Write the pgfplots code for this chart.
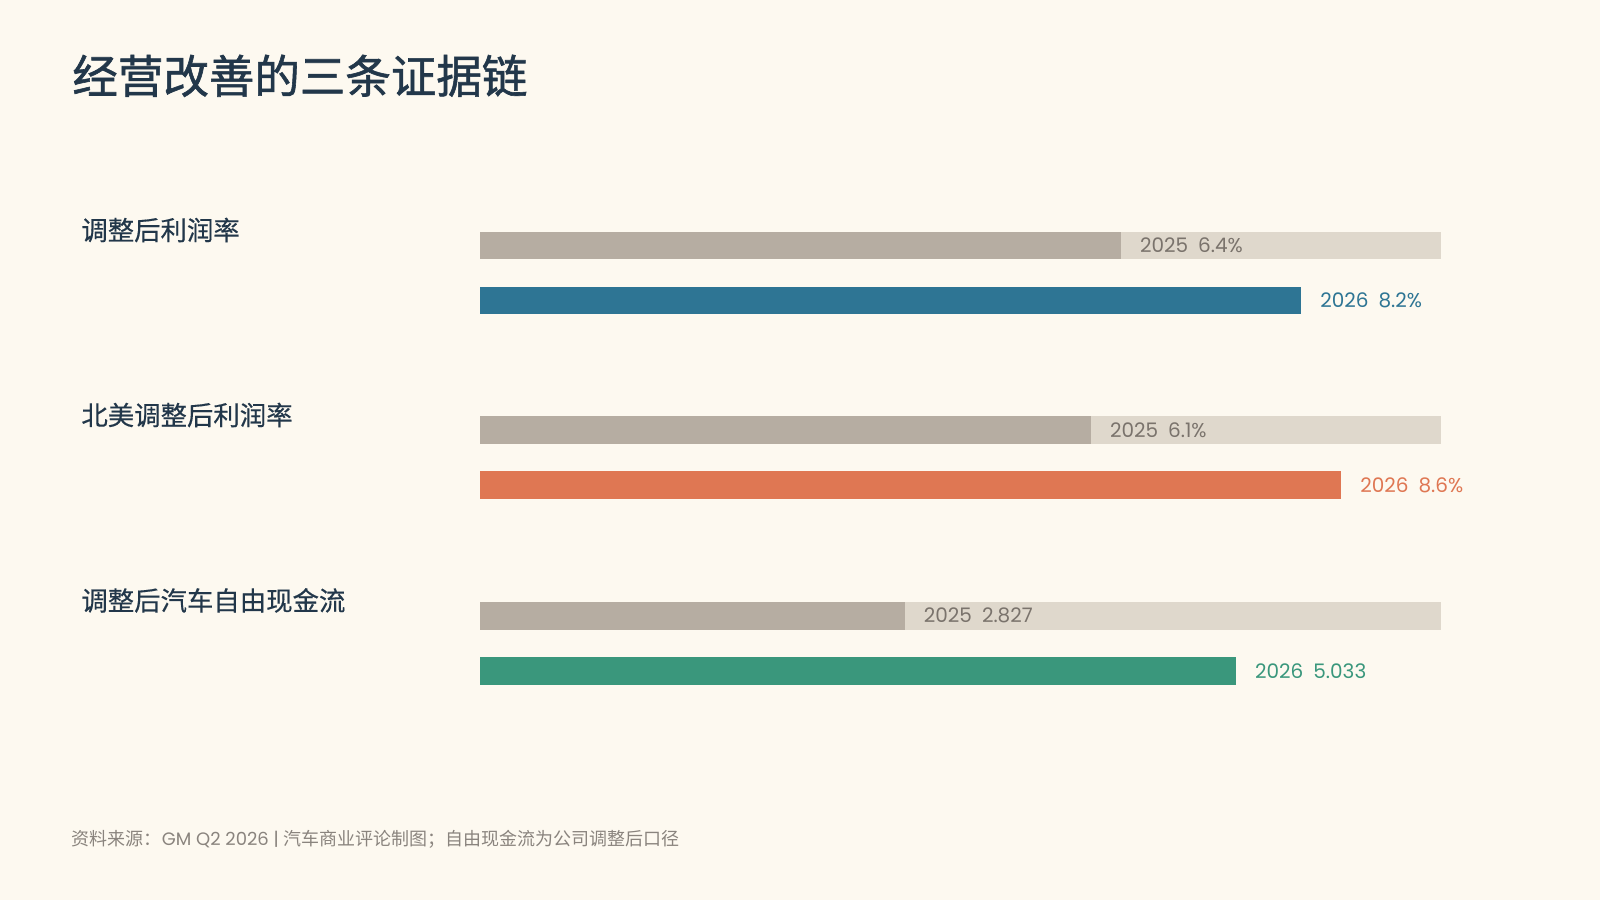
\documentclass[border=0pt]{standalone}
\usepackage{pgfplots}
\pgfplotsset{compat=1.18}
\usepackage{fontspec}
\setmainfont{Poppins}
\newfontfamily\cjk{Noto Sans CJK SC}
\newfontfamily\cjkmed[FakeBold=0.4]{Noto Sans CJK SC}
\newfontfamily\cjktitle[FakeBold=1.3]{Noto Sans CJK SC}

\definecolor{bg}{HTML}{FDF9F0}
\definecolor{track}{HTML}{DFD8CC}
\definecolor{old}{HTML}{B6ADA2}
\definecolor{oldtext}{HTML}{7A736C}
\definecolor{blue}{HTML}{2E7594}
\definecolor{orange}{HTML}{DF7753}
\definecolor{green}{HTML}{3A977C}
\definecolor{titlec}{HTML}{22374A}
\definecolor{footc}{HTML}{8A847E}

\pgfplotsset{
  grp/.style={at={(240pt,#1)}, anchor=north west,
    width=480.5pt, height=55pt, scale only axis,
    xmin=0, ymin=-0.5, ymax=1.5, y dir=reverse,
    hide axis, clip=false,
    /pgf/number format/assume math mode=true},
  mybar/.style={xbar, bar width=13.8pt, bar shift=0pt, draw=none},
  lbl/.style n args={3}{point meta=x,
    nodes near coords={#1\hspace{0.5em}\pgfmathprintnumber[fixed,fixed zerofill,precision=#2]{\pgfplotspointmeta}#3},
    nodes near coords style={anchor=west, inner sep=0pt, xshift=9.5pt,
      font=\fontsize{10pt}{12pt}\selectfont}},
}

\begin{document}
\begin{tikzpicture}
\fill[bg] (0,0) rectangle (800pt,-450pt);
\useasboundingbox (0,0) rectangle (800pt,-450pt);

\node[anchor=west, inner sep=0pt, text=titlec,
  font=\cjktitle\fontsize{22.75pt}{26pt}\selectfont] at (36pt,-37.9pt) {经营改善的三条证据链};

\begin{scope}[every node/.style={anchor=west, inner sep=0pt, text=titlec,
  font=\cjkmed\fontsize{13.2pt}{16pt}\selectfont}]
\node at (40.5pt,-115pt) {调整后利润率};
\node at (40.5pt,-207.5pt) {北美调整后利润率};
\node at (40.5pt,-300.2pt) {调整后汽车自由现金流};
\end{scope}

% adjusted margin, %
\begin{axis}[grp=-108.95pt, xmax=9.6]
\addplot[mybar, fill=track] coordinates {(9.6,0)};
\addplot[mybar, fill=old, lbl={2025}{1}{\%}, nodes near coords style={text=oldtext}]
  coordinates {(6.4,0)};
\addplot[mybar, fill=blue, lbl={2026}{1}{\%}, nodes near coords style={text=blue}]
  coordinates {(8.2,1)};
\end{axis}

% North America adjusted margin, %
\begin{axis}[grp=-201.3pt, xmax=9.6]
\addplot[mybar, fill=track] coordinates {(9.6,0)};
\addplot[mybar, fill=old, lbl={2025}{1}{\%}, nodes near coords style={text=oldtext}]
  coordinates {(6.1,0)};
\addplot[mybar, fill=orange, lbl={2026}{1}{\%}, nodes near coords style={text=orange}]
  coordinates {(8.6,1)};
\end{axis}

% adjusted automotive free cash flow
\begin{axis}[grp=-294.15pt, xmax=6.4]
\addplot[mybar, fill=track] coordinates {(6.4,0)};
\addplot[mybar, fill=old, lbl={2025}{3}{}, nodes near coords style={text=oldtext}]
  coordinates {(2.827,0)};
\addplot[mybar, fill=green, lbl={2026}{3}{}, nodes near coords style={text=green}]
  coordinates {(5.033,1)};
\end{axis}

\node[anchor=west, inner sep=0pt, text=footc, font=\fontsize{9pt}{11pt}\selectfont]
  at (35.7pt,-419.5pt) {\cjk 资料来源：\rmfamily GM Q2 2026 | \cjk 汽车商业评论制图；自由现金流为公司调整后口径};
\end{tikzpicture}
\end{document}
